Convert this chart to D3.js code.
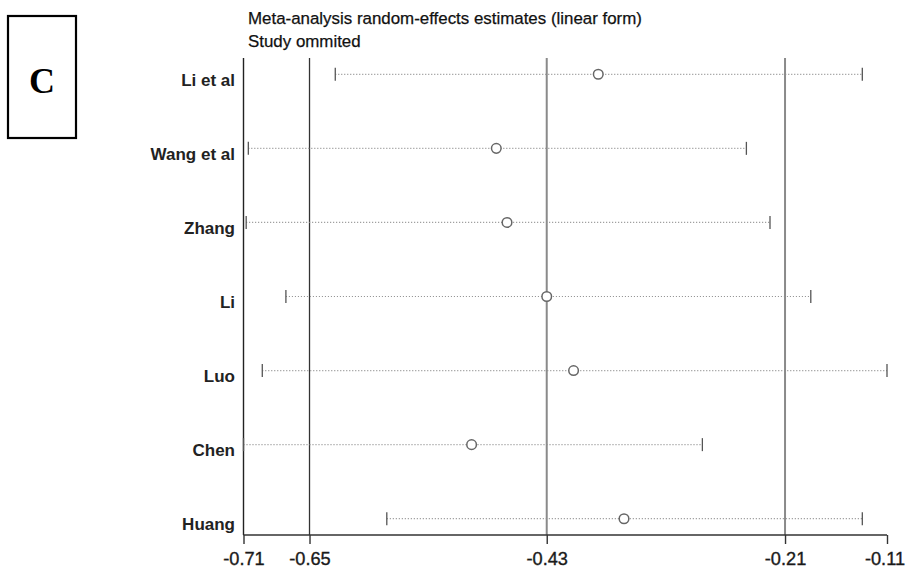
<!DOCTYPE html>
<html>
<head>
<meta charset="utf-8">
<script src="https://cdn.jsdelivr.net/npm/d3@7"></script>
<style>
  html, body { margin: 0; padding: 0; background: #fff; }
  svg { display: block; }
</style>
</head>
<body>
<svg id="chart" width="906" height="573"></svg>
<script>
// ---- data ----
const studies = ["Li et al", "Wang et al", "Zhang", "Li", "Luo", "Chen", "Huang"];
const estimates = [-0.380, -0.475, -0.465, -0.428, -0.403, -0.498, -0.356];
const lowerCI   = [-0.625, -0.706, -0.708, -0.671, -0.693, -0.7105, -0.577];
const upperCI   = [-0.134, -0.242, -0.220, -0.182, -0.111, -0.283, -0.134];
const tickValues = [-0.7105, -0.649, -0.428, -0.206, -0.111];
const tickLabels = ["-0.71", "-0.65", "-0.43", "-0.21", "-0.11"];
const overall = { lower: -0.649, est: -0.428, upper: -0.206 };
const titleLines = ["Meta-analysis random-effects estimates (linear form)", "Study ommited"];
const panelLetter = "C";

// ---- layout ----
const svg = d3.select("#chart");
const plotLeft = 243.5, plotRight = 887, plotTop = 58, plotBottom = 535;

const x = d3.scaleLinear().domain([d3.min(lowerCI), d3.max(upperCI)]).range([plotLeft, plotRight]);
const y = d3.scalePoint().domain(studies).range([plotTop, plotBottom]).padding(0.22);

// panel letter box
svg.append("rect").attr("x", 8).attr("y", 16).attr("width", 68).attr("height", 122)
  .attr("fill", "none").attr("stroke", "#000").attr("stroke-width", 2.2);
svg.append("text").attr("x", 42).attr("y", 93).attr("text-anchor", "middle")
  .attr("font-family", "'Liberation Serif', 'Times New Roman', serif")
  .attr("font-weight", "bold").attr("font-size", 36).attr("fill", "#000").text(panelLetter);

// title
svg.selectAll("text.title").data(titleLines).enter().append("text")
  .attr("class", "title")
  .attr("x", 248).attr("y", (d, i) => 24 + i * 23)
  .attr("font-family", "'Liberation Sans', Arial, sans-serif")
  .attr("font-size", 16.9).attr("fill", "#111")
  .attr("stroke", "#111").attr("stroke-width", 0.25).text(d => d);

// reference lines: overall CI lower, estimate, CI upper
svg.append("line").attr("x1", x(overall.lower)).attr("x2", x(overall.lower))
  .attr("y1", plotTop).attr("y2", plotBottom).attr("stroke", "#333").attr("stroke-width", 1.3);
[overall.est, overall.upper].forEach(v => {
  svg.append("line").attr("x1", x(v)).attr("x2", x(v))
    .attr("y1", plotTop).attr("y2", plotBottom).attr("stroke", "#8a8a8a").attr("stroke-width", 2);
});

// left axis line
svg.append("line").attr("x1", plotLeft).attr("x2", plotLeft)
  .attr("y1", plotTop).attr("y2", plotBottom).attr("stroke", "#222").attr("stroke-width", 1.4);

// bottom axis
const xAxis = d3.axisBottom(x).tickValues(tickValues)
  .tickFormat((d, i) => tickLabels[i]).tickSizeInner(9).tickSizeOuter(0).tickPadding(8);
const gx = svg.append("g").attr("transform", `translate(0,${plotBottom})`).call(xAxis);
gx.select(".domain").attr("stroke", "#333").attr("stroke-width", 1.4)
  .attr("d", `M${plotLeft},0H${plotRight}`);
gx.selectAll(".tick line").attr("stroke", "#333").attr("stroke-width", 1.4);
gx.selectAll(".tick text")
  .attr("font-family", "'Liberation Sans', Arial, sans-serif")
  .attr("font-size", 18.2).attr("fill", "#1a1a1a")
  .attr("stroke", "#1a1a1a").attr("stroke-width", 0.35)
  .attr("dx", (d, i) => i === tickValues.length - 1 ? -2.5 : 0);

// CI dotted lines
const rows = studies.map((s, i) => ({ s, est: estimates[i], lo: lowerCI[i], hi: upperCI[i] }));
const g = svg.append("g");
g.selectAll("line.ci").data(rows).enter().append("line")
  .attr("class", "ci")
  .attr("x1", d => x(d.lo)).attr("x2", d => x(d.hi))
  .attr("y1", d => y(d.s)).attr("y2", d => y(d.s))
  .attr("stroke", "#8c8c8c").attr("stroke-width", 1.2).attr("stroke-dasharray", "1,2");
// end caps
g.selectAll("line.lo").data(rows).enter().append("line")
  .attr("x1", d => x(d.lo)).attr("x2", d => x(d.lo))
  .attr("y1", d => y(d.s) - 6.5).attr("y2", d => y(d.s) + 6.5)
  .attr("stroke", "#555").attr("stroke-width", 1.3);
g.selectAll("line.hi").data(rows).enter().append("line")
  .attr("x1", d => x(d.hi)).attr("x2", d => x(d.hi))
  .attr("y1", d => y(d.s) - 6.5).attr("y2", d => y(d.s) + 6.5)
  .attr("stroke", "#555").attr("stroke-width", 1.3);
// estimate circles
g.selectAll("circle").data(rows).enter().append("circle")
  .attr("cx", d => x(d.est)).attr("cy", d => y(d.s)).attr("r", 4.8)
  .attr("fill", "#fff").attr("stroke", "#666").attr("stroke-width", 1.5);

// study labels
svg.selectAll("text.lab").data(studies).enter().append("text")
  .attr("class", "lab")
  .attr("x", 235).attr("y", d => y(d) + 11.5).attr("text-anchor", "end")
  .attr("font-family", "'Liberation Sans', Arial, sans-serif")
  .attr("font-weight", "bold").attr("font-size", 17).attr("fill", "#222").text(d => d);
</script>
</body>
</html>
